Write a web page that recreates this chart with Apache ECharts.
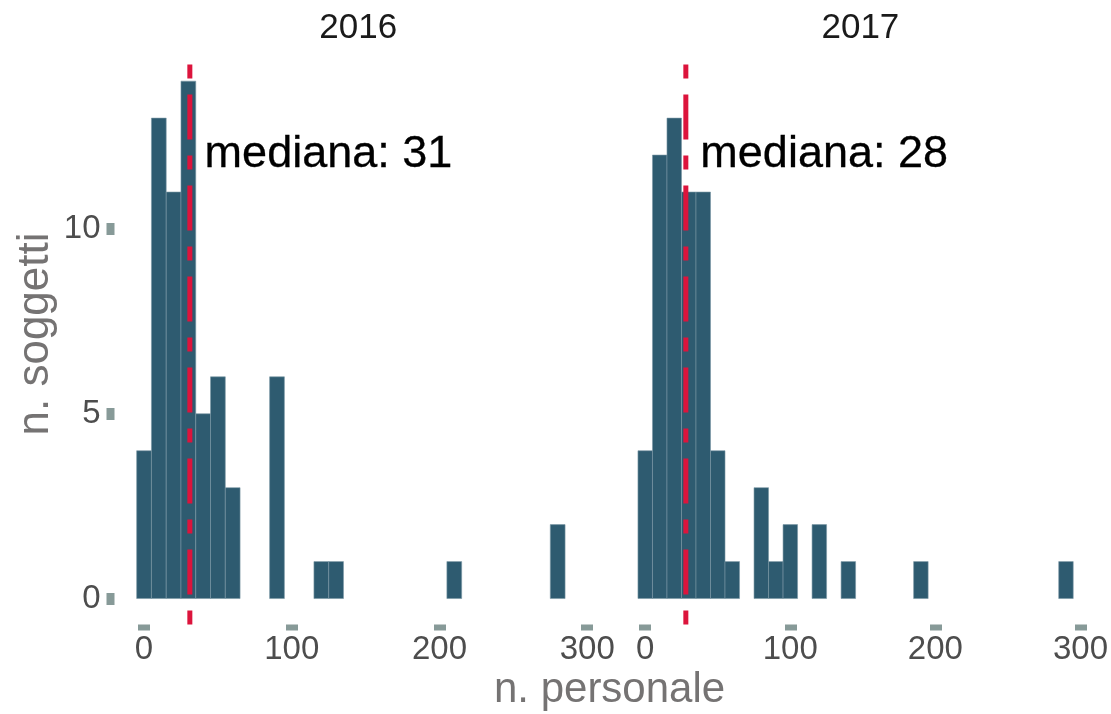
<!DOCTYPE html>
<html><head><meta charset="utf-8">
<script src="https://cdn.jsdelivr.net/npm/echarts@6/dist/echarts.min.js"></script>
<style>html,body{margin:0;padding:0;background:#fff}#c{width:1111px;height:714px}</style>
</head><body><div id="c"></div>
<script>
// ---- data ----
const years = ['2016', '2017'];
const binCenters2016 = [0, 10, 20, 30, 40, 50, 60, 90, 120, 130, 210, 280];
const counts2016     = [4, 13, 11, 14, 5, 6, 3, 6, 1, 1, 1, 2];
const binCenters2017 = [0, 10, 20, 30, 40, 50, 60, 80, 90, 100, 120, 140, 190, 290];
const counts2017     = [4, 12, 13, 11, 11, 4, 1, 3, 1, 2, 2, 1, 1, 1];
const medians = [31, 28];
const binWidth = 10;
const xTickValues = [0, 100, 200, 300];
const yTickValues = [0, 5, 10];
const labelY = 12;
const labelOffset = 10;
const xLabel = 'n. personale';
const yLabel = 'n. soggetti';
const medianPrefix = 'mediana: ';

// ---- chart ----
const FONT = '"Liberation Sans", Arial, Helvetica, sans-serif';
const xMin = -20, xMax = 310, yMin = -0.7, yMax = 14.7;
const grids = [
  {left: 114.5, top: 55.3, width: 487.5, height: 569.1},
  {left: 616.2, top: 55.3, width: 488.4, height: 569.1}
];
const panels = [
  {centers: binCenters2016, counts: counts2016},
  {centers: binCenters2017, counts: counts2017}
];

function renderBar(params, api) {
  const c = api.value(0), n = api.value(1);
  const p0 = api.coord([c - binWidth / 2, n]);
  const p1 = api.coord([c + binWidth / 2, 0]);
  return {
    type: 'rect',
    shape: {x: p0[0], y: p0[1], width: p1[0] - p0[0], height: p1[1] - p0[1]},
    style: {fill: '#2e5b70', stroke: '#7a97a5', lineWidth: 0.6}
  };
}

const xAxes = [], yAxes = [], series = [];
panels.forEach((p, i) => {
  xAxes.push({
    type: 'value', gridIndex: i, min: xMin, max: xMax, position: 'bottom',
    axisLine: {show: false, onZero: false}, splitLine: {show: false},
    axisTick: {show: true, customValues: xTickValues, length: 6,
      lineStyle: {color: '#879a98', width: 12}},
    axisLabel: {show: true, customValues: xTickValues, fontSize: 33, color: '#4d4d4d',
      fontFamily: FONT, margin: 9}
  });
  yAxes.push({
    type: 'value', gridIndex: i, min: yMin, max: yMax, position: 'left',
    axisLine: {show: false, onZero: false}, splitLine: {show: false},
    axisTick: {show: i === 0, customValues: yTickValues, length: 8,
      lineStyle: {color: '#879a98', width: 12}},
    axisLabel: {show: i === 0, customValues: yTickValues, fontSize: 33, color: '#4d4d4d',
      fontFamily: FONT, margin: 14}
  });
  series.push({
    type: 'custom', xAxisIndex: i, yAxisIndex: i, renderItem: renderBar,
    data: p.centers.map((c, k) => [c, p.counts[k]]), z: 2
  });
  series.push({
    type: 'line', xAxisIndex: i, yAxisIndex: i, symbol: 'none', silent: true,
    data: [[medians[i], yMin], [medians[i], yMax]],
    lineStyle: {color: '#DC143C', width: 5, type: [14, 16, 45, 16]}, z: 3
  });
  series.push({
    type: 'scatter', xAxisIndex: i, yAxisIndex: i, symbolSize: 0, silent: true,
    data: [[medians[i] + labelOffset, labelY]],
    label: {show: true, position: 'right', distance: 0, opacity: 1,
      formatter: medianPrefix + medians[i], fontSize: 45, color: '#000000', fontFamily: FONT,
      textBorderColor: '#000000', textBorderWidth: 0.3},
    z: 4
  });
});

const graphics = [];
years.forEach((y, i) => {
  graphics.push({
    type: 'text', x: grids[i].left + grids[i].width / 2, y: 28,
    style: {text: y, fontSize: 35, fill: '#1a1a1a', fontFamily: FONT,
      textAlign: 'center', textVerticalAlign: 'middle'}
  });
});
graphics.push({
  type: 'text', x: (grids[0].left + grids[1].left + grids[1].width) / 2, y: 690,
  style: {text: xLabel, fontSize: 42, fill: '#757373', fontFamily: FONT,
    textAlign: 'center', textVerticalAlign: 'middle'}
});
graphics.push({
  type: 'text', x: 36, y: 334, rotation: Math.PI / 2,
  style: {text: yLabel, fontSize: 44, fill: '#757373', fontFamily: FONT,
    textAlign: 'center', textVerticalAlign: 'middle'}
});

const chart = echarts.init(document.getElementById('c'), null, {renderer: 'canvas'});
chart.setOption({
  animation: false,
  backgroundColor: '#fff',
  grid: grids,
  xAxis: xAxes,
  yAxis: yAxes,
  series: series,
  graphic: graphics
});
</script></body></html>
